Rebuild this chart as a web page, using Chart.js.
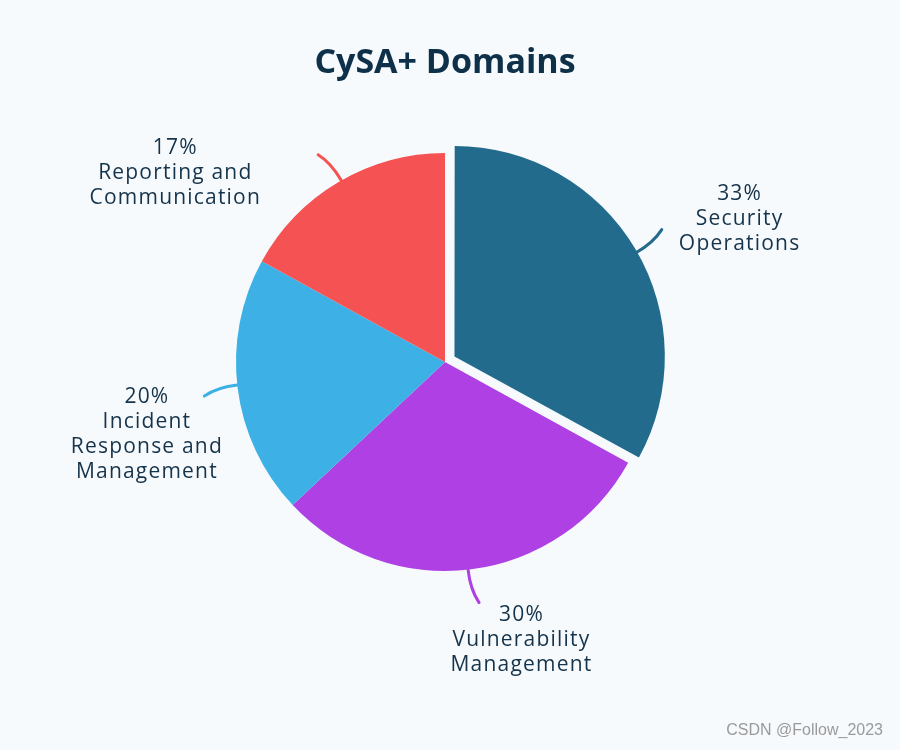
<!DOCTYPE html>
<html>
<head>
<meta charset="utf-8">
<script src="https://cdn.jsdelivr.net/npm/chart.js@4"></script>
<style>
  html, body { margin: 0; padding: 0; background: #F6FAFD; }
  #wrap { width: 900px; height: 750px; }
</style>
</head>
<body>
<div id="wrap"><canvas id="domains" width="900" height="750"></canvas></div>
<script>
const domains = ['Security Operations', 'Vulnerability Management', 'Incident Response and Management', 'Reporting and Communication'];
const shares = [33, 30, 20, 17];
// label text broken into lines as in the picture
const labelLines = [
    ['Security', 'Operations'],
    ['Vulnerability', 'Management'],
    ['Incident', 'Response and', 'Management'],
    ['Reporting and', 'Communication']
];
const colors = ['#236B8C', '#AF40E3', '#3DB1E6', '#F55353'];

// where each text block sits relative to the end of its leader line
const labelNudge = [[76, -14], [46, 37], [-57, 42], [-146, 20]];

const bgPlugin = {
    id: 'bg',
    beforeDraw(chart) {
        const ctx = chart.ctx;
        ctx.save();
        ctx.fillStyle = '#F6FAFD';
        ctx.fillRect(0, 0, chart.width, chart.height);
        ctx.restore();
    }
};

const labelPlugin = {
    id: 'sliceLabels',
    afterDatasetsDraw(chart) {
        const ctx = chart.ctx;
        const arcs = chart.getDatasetMeta(0).data;
        arcs.forEach((arc, i) => {
            const mid = (arc.startAngle + arc.endAngle) / 2;
            // chart.js v4 moves an arc by a quarter of its offset option
            const off = (arc.options.offset || 0) / 4;
            const cx = arc.x + Math.cos(mid) * off;
            const cy = arc.y + Math.sin(mid) * off;
            const r = arc.outerRadius;
            const a0 = mid + 0.015, a1 = mid - 0.015;
            const sx = cx + Math.cos(a0) * r, sy = cy + Math.sin(a0) * r;
            const qx = cx + Math.cos(a0) * (r + 20), qy = cy + Math.sin(a0) * (r + 20);
            const ex = cx + Math.cos(a1) * (r + 34), ey = cy + Math.sin(a1) * (r + 34);

            ctx.save();
            ctx.strokeStyle = colors[i];
            ctx.lineWidth = 3;
            ctx.lineCap = 'round';
            ctx.beginPath();
            ctx.moveTo(sx, sy);
            ctx.quadraticCurveTo(qx, qy, ex, ey);
            ctx.stroke();

            const ax = cx + Math.cos(mid) * (r + 34);
            const ay = cy + Math.sin(mid) * (r + 34);
            const lines = [shares[i] + '%'].concat(labelLines[i]);
            const lh = 25;
            const bx = ax + labelNudge[i][0];
            const by = ay + labelNudge[i][1];
            ctx.fillStyle = '#15334A';
            ctx.font = '21px "Open Sans", "Noto Sans", sans-serif';
            ctx.letterSpacing = '1.2px';
            ctx.textAlign = 'center';
            ctx.textBaseline = 'middle';
            lines.forEach((t, k) => {
                ctx.fillText(t, bx, by + (k - (lines.length - 1) / 2) * lh);
            });
            ctx.restore();
        });

        // watermark
        ctx.save();
        ctx.fillStyle = '#9A9A9A';
        ctx.font = '16px "Liberation Sans", Arial, sans-serif';
        ctx.textAlign = 'right';
        ctx.textBaseline = 'middle';
        ctx.fillText('CSDN @Follow_2023', 883, 731);
        ctx.restore();
    }
};

new Chart(document.getElementById('domains'), {
    type: 'pie',
    data: {
        labels: domains,
        datasets: [{
            data: shares,
            backgroundColor: colors,
            borderWidth: 0,
            offset: [44, 0, 0, 0],
            radius: 209
        }]
    },
    options: {
        responsive: false,
        animation: false,
        layout: { padding: { left: 0, right: 10, top: 0, bottom: 128.4 } },
        plugins: {
            legend: { display: false },
            tooltip: { enabled: false },
            title: {
                display: true,
                text: 'CySA+ Domains',
                color: '#0F3049',
                font: { family: '"Open Sans", "Noto Sans", sans-serif', size: 34, weight: 'bold' },
                padding: { top: 43, bottom: 18.6 }
            }
        }
    },
    plugins: [bgPlugin, labelPlugin]
});
</script>
</body>
</html>
